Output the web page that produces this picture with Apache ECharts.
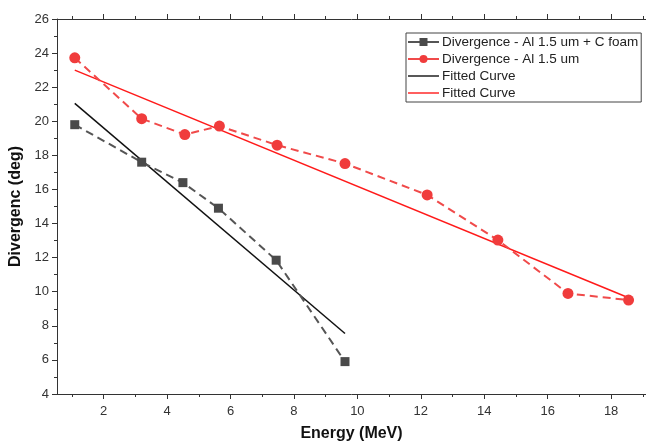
<!DOCTYPE html>
<html><head><meta charset="utf-8">
<script src="https://cdn.jsdelivr.net/npm/echarts@6/dist/echarts.min.js"></script>
<style>html,body{margin:0;padding:0;background:#fff}#c{width:646px;height:442px}</style>
</head><body><div id="c"></div>
<script>
const foamX = [1.09, 3.2, 4.5, 5.62, 7.44, 9.61];
const foamY = [19.8, 17.6, 16.4, 14.9, 11.85, 5.9];
const alX = [1.09, 3.2, 4.56, 5.65, 7.47, 9.61, 12.2, 14.43, 16.64, 18.55];
const alY = [23.72, 20.15, 19.22, 19.72, 18.6, 17.52, 15.68, 13.03, 9.9, 9.51];
const fitFoam = [[1.09, 21.05], [9.61, 7.55]];
const fitAl = [[1.09, 23.0], [18.55, 9.65]];
const xMajor = [2, 4, 6, 8, 10, 12, 14, 16, 18];
const xMinor = [1, 3, 5, 7, 9, 11, 13, 15, 17, 19];
const names = ['Divergence - Al 1.5 um + C foam', 'Divergence - Al 1.5 um', 'Fitted Curve', 'Fitted Curve '];

const zip = (a, b) => a.map((v, i) => [v, b[i]]);
const AX = '#333';
const XMIN = 0.53, XMAX = 19.1;
const LINE_ICON = 'path://M0,0 H31 V1.4 H0 Z';
function xa(pos, opts) {
  return Object.assign({
    type: 'value', position: pos, min: XMIN, max: XMAX,
    axisLine: { show: true, onZero: false, lineStyle: { color: AX, width: 1 } },
    splitLine: { show: false },
    axisTick: { show: true, inside: false, length: 5, lineStyle: { color: AX }, customValues: xMajor },
    axisLabel: { show: false }
  }, opts);
}
const chart = echarts.init(document.getElementById('c'), null, { renderer: 'canvas' });
chart.setOption({
  animation: false,
  grid: { left: 57, top: 19, right: 0, bottom: 48, outerBoundsMode: 'none', containLabel: false },
  legend: {
    orient: 'vertical', left: 406, top: 33,
    padding: [2, 3, 2, 1], itemGap: 3, itemWidth: 31, itemHeight: 10,
    borderColor: '#444', borderWidth: 1, backgroundColor: '#fff',
    textStyle: { fontFamily: 'Liberation Sans, Arial', fontSize: 13.5, color: '#222', padding: [0, 0, 0, -2] },
    data: [
      { name: names[0], lineStyle: { type: 'solid' } },
      { name: names[1], lineStyle: { type: 'solid' } },
      { name: names[2], icon: LINE_ICON },
      { name: names[3], icon: LINE_ICON }
    ]
  },
  xAxis: [
    xa('bottom', {
      name: 'Energy (MeV)', nameLocation: 'middle', nameGap: 32,
      nameTextStyle: { fontFamily: 'Liberation Sans, Arial', fontWeight: 'bold', fontSize: 16, color: '#111' },
      axisLabel: { show: true, customValues: xMajor, margin: 11, fontFamily: 'Liberation Sans, Arial', fontSize: 13, color: '#333' }
    }),
    xa('top', {}),
    xa('bottom', { axisLine: { show: false }, axisTick: { show: true, length: 3, lineStyle: { color: AX }, customValues: xMinor } }),
    xa('top', { axisLine: { show: false }, axisTick: { show: true, length: 3, lineStyle: { color: AX }, customValues: xMinor } })
  ],
  yAxis: [{
    type: 'value', min: 4, max: 26, interval: 2,
    name: 'Divergenc (deg)', nameLocation: 'middle', nameGap: 31,
    nameTextStyle: { fontFamily: 'Liberation Sans, Arial', fontWeight: 'bold', fontSize: 16, color: '#111' },
    axisLine: { show: true, lineStyle: { color: AX, width: 1 } },
    axisTick: { show: true, length: 5, lineStyle: { color: AX } },
    minorTick: { show: true, splitNumber: 2, length: 3, lineStyle: { color: AX } },
    splitLine: { show: false },
    axisLabel: { margin: 8, fontFamily: 'Liberation Sans, Arial', fontSize: 13, color: '#333' }
  }],
  series: [
    {
      name: names[0], type: 'line', data: zip(foamX, foamY),
      symbol: 'rect', symbolSize: 9,
      itemStyle: { color: '#4a4a4a' },
      lineStyle: { color: '#555', width: 2, type: [8, 5] }, z: 3
    },
    {
      name: names[1], type: 'line', data: zip(alX, alY), smooth: false,
      symbol: 'circle', symbolSize: 11,
      itemStyle: { color: '#f03c3c' },
      lineStyle: { color: '#f04a4a', width: 2, type: [8, 5] }, z: 3
    },
    {
      name: names[2], type: 'line', data: fitFoam, symbol: 'none',
      itemStyle: { color: '#111' }, lineStyle: { color: '#111', width: 1.5 }, z: 2
    },
    {
      name: names[3], type: 'line', data: fitAl, symbol: 'none',
      itemStyle: { color: '#ff1a1a' }, lineStyle: { color: '#ff1a1a', width: 1.5 }, z: 2
    }
  ]
});
</script></body></html>
